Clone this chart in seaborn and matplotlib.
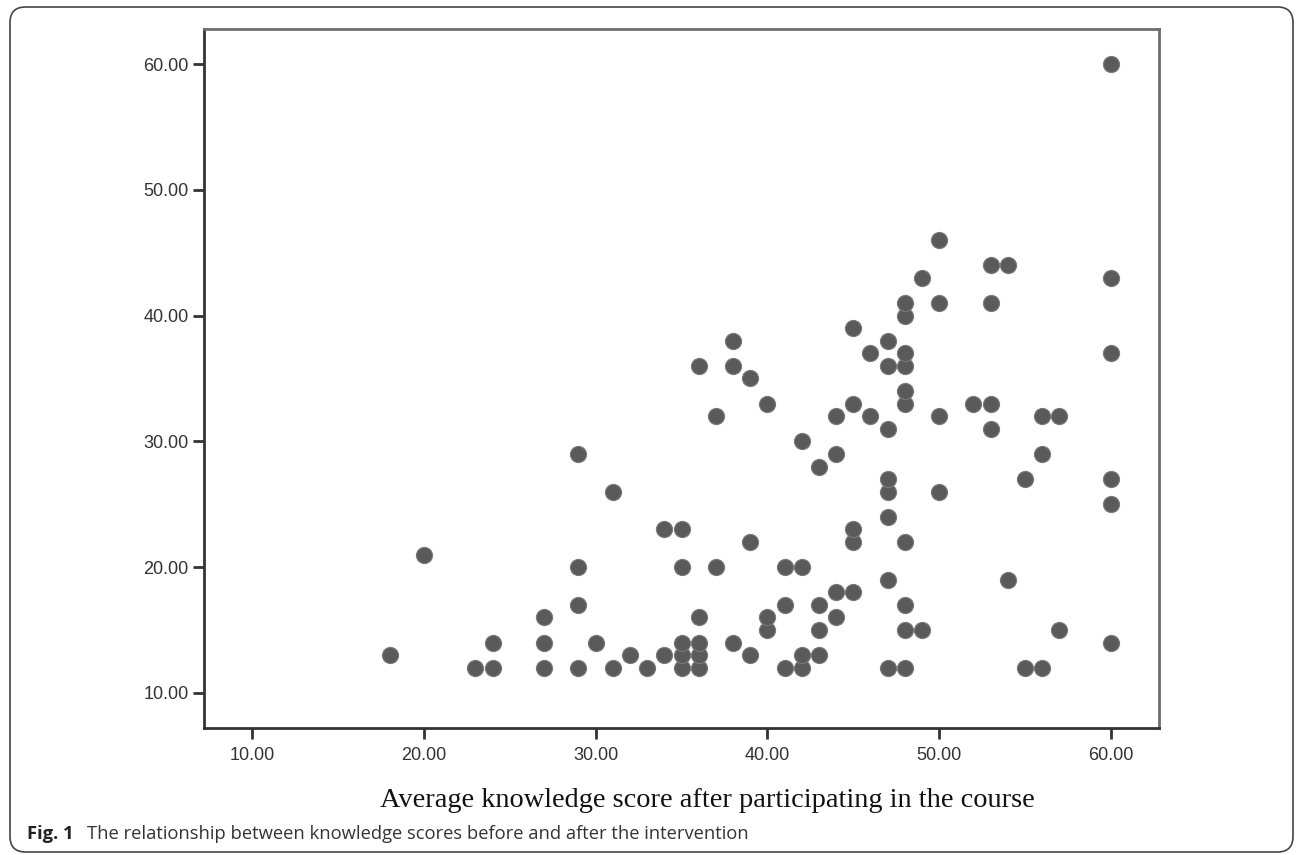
import matplotlib
matplotlib.use('Agg')
import matplotlib.pyplot as plt
import seaborn as sns
import pandas as pd
from matplotlib.patches import FancyBboxPatch

# Knowledge scores: after the course (x) and before (y)
after = [18, 20, 23, 24, 24, 27, 27, 27, 29, 29, 29, 29, 30, 31, 31, 32, 33, 34, 34,
         35, 35, 35, 35, 35, 36, 36, 36, 36, 36, 37, 37, 38, 38, 38, 39, 39, 39,
         40, 40, 40, 41, 41, 41, 42, 42, 42, 42, 43, 43, 43, 43,
         44, 44, 44, 44, 45, 45, 45, 45, 45, 46, 46,
         47, 47, 47, 47, 47, 47, 47, 47,
         48, 48, 48, 48, 48, 48, 48, 48, 48, 48,
         49, 49, 50, 50, 50, 50, 52, 53, 53, 53, 53, 54, 54,
         55, 55, 56, 56, 56, 57, 57, 60, 60, 60, 60, 60, 60]
before = [13, 21, 12, 12, 14, 12, 14, 16, 12, 17, 20, 29, 14, 12, 26, 13, 12, 13, 23,
          12, 13, 14, 20, 23, 12, 13, 14, 16, 36, 20, 32, 14, 36, 38, 13, 22, 35,
          15, 16, 33, 12, 17, 20, 12, 13, 20, 30, 13, 15, 17, 28,
          16, 18, 29, 32, 18, 22, 23, 33, 39, 32, 37,
          12, 19, 24, 26, 27, 31, 36, 38,
          12, 15, 17, 22, 33, 34, 36, 37, 40, 41,
          15, 43, 26, 32, 41, 46, 33, 31, 33, 41, 44, 19, 44,
          12, 27, 12, 29, 32, 15, 32, 14, 25, 27, 37, 43, 60]

ticks = [10, 20, 30, 40, 50, 60]
tick_labels = ['10.00', '20.00', '30.00', '40.00', '50.00', '60.00']

df = pd.DataFrame({'after': after, 'before': before})

sns.set_style('white')
plt.rcParams['font.family'] = ['Liberation Sans', 'DejaVu Sans']

fig = plt.figure(figsize=(12.96, 8.55), dpi=100)
ax = fig.add_axes([204 / 1296, 1 - 728 / 855, (1159 - 204) / 1296, (728 - 29) / 855])

sns.scatterplot(data=df, x='after', y='before', ax=ax, s=135, color='#5a5a5a',
                edgecolor='#7a7a7a', linewidth=0.8, legend=False)

ax.set_xlim(7.2, 62.8)
ax.set_ylim(7.2, 62.8)
ax.set_xticks(ticks)
ax.set_xticklabels(tick_labels)
ax.set_yticks(ticks)
ax.set_yticklabels(tick_labels)
ax.set_xlabel('')
ax.set_ylabel('')
ax.tick_params(axis='both', direction='out', length=8, width=2, color='#333333',
               labelsize=13, labelcolor='#333333', pad=3, bottom=True, left=True)
ax.tick_params(axis='x', pad=6)

for side in ['left', 'bottom']:
    ax.spines[side].set_color('#333333')
    ax.spines[side].set_linewidth(2)
for side in ['top', 'right']:
    ax.spines[side].set_visible(True)
    ax.spines[side].set_color('#6e6e6e')
    ax.spines[side].set_linewidth(2)

fig.text(707 / 1296, 1 - 800 / 855, 'Average knowledge score after participating in the course',
         ha='center', va='center', fontsize=20.4, family=['Liberation Serif', 'DejaVu Serif'],
         color='#111111')

# caption
fig.text(27 / 1296, 1 - 834 / 855, 'Fig. 1', ha='left', va='center', fontsize=13.2,
         fontweight='bold', family=['Open Sans', 'DejaVu Sans'], color='#222222')
fig.text(87 / 1296, 1 - 834 / 855,
         'The relationship between knowledge scores before and after the intervention',
         ha='left', va='center', fontsize=13.2, family=['Open Sans', 'DejaVu Sans'],
         color='#333333')

# rounded frame around the whole figure
frame = FancyBboxPatch((10 / 1296, 3 / 855), 1283 / 1296, 845 / 855,
                       boxstyle='round,pad=0,rounding_size=0.012',
                       transform=fig.transFigure, fill=False, edgecolor='#444444',
                       linewidth=1.2, mutation_aspect=1296 / 855)
fig.patches.append(frame)

fig.savefig('out.png', dpi=100)
